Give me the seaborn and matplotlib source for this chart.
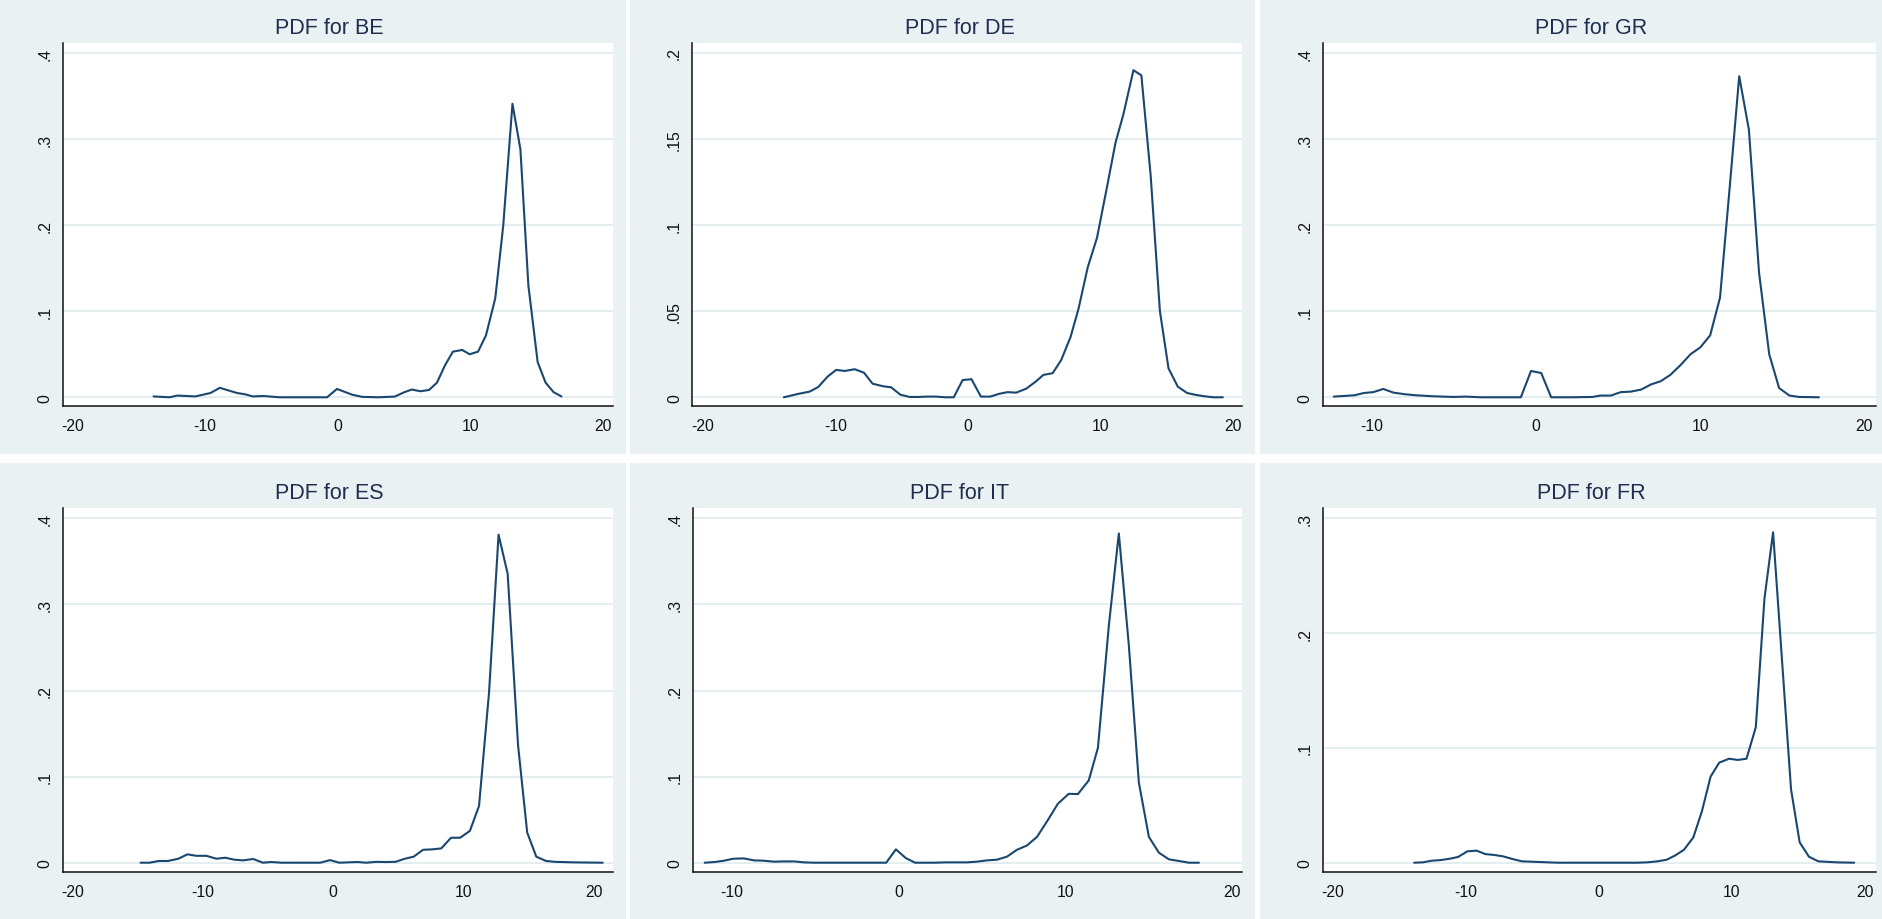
import numpy as np
import pandas as pd
import matplotlib
matplotlib.use("Agg")
import matplotlib.pyplot as plt
from matplotlib.patches import Rectangle
import seaborn as sns

# ---------------- data ----------------
countries = ["BE", "DE", "GR", "ES", "IT", "FR"]

be_x = [-13.9, -12.7, -12.1, -10.75, -9.6, -8.9, -7.6, -7.0, -6.4, -5.6, -4.4, -0.8, -0.05, 1.1, 1.85,
        3.05, 4.3, 5.05, 5.6, 6.25, 6.9, 7.5, 8.1, 8.7, 9.4, 9.97, 10.6, 11.2, 11.9, 12.5, 13.2, 13.8,
        14.4, 15.1, 15.7, 16.3, 16.9]
be_y = [0.001, 0.0, 0.002, 0.001, 0.005, 0.011, 0.005, 0.0035, 0.001, 0.0015, 0.0, 0.0, 0.0097, 0.003,
        0.0005, 0.0, 0.0008, 0.006, 0.009, 0.007, 0.0085, 0.017, 0.037, 0.053, 0.055, 0.050, 0.053,
        0.072, 0.115, 0.199, 0.341, 0.288, 0.130, 0.041, 0.017, 0.006, 0.001]

de_x = [-13.9, -12.8, -11.95, -11.3, -10.6, -9.95, -9.3, -8.55, -7.85, -7.2, -6.4, -5.8, -5.1, -4.4,
        -3.75, -3.1, -2.4, -1.7, -1.07, -0.4, 0.27, 0.98, 1.68, 2.35, 3.0, 3.65, 4.4, 5.1, 5.7, 6.4,
        7.05, 7.75, 8.35, 9.05, 9.75, 10.45, 11.15, 11.75, 12.5, 13.1, 13.8, 14.5, 15.15, 15.85,
        16.55, 17.2, 17.85, 18.55, 19.25]
de_y = [0.0, 0.002, 0.0033, 0.006, 0.012, 0.0159, 0.0153, 0.0163, 0.0143, 0.0079, 0.0064, 0.0058,
        0.0015, 0.0002, 0.0002, 0.0004, 0.0004, 0.0, 0.0, 0.010, 0.0105, 0.0004, 0.0004, 0.002, 0.003,
        0.0027, 0.005, 0.009, 0.013, 0.014, 0.0217, 0.035, 0.0513, 0.0755, 0.0927, 0.120, 0.148,
        0.1646, 0.190, 0.187, 0.129, 0.050, 0.0168, 0.0062, 0.0025, 0.0014, 0.0006, 0.0, 0.0]

gr_x = [-12.34, -11.1, -10.5, -9.93, -9.33, -8.7, -8.0, -7.3, -6.3, -5.08, -4.3, -3.35, -0.94, -0.32,
        0.3, 0.91, 2.2, 3.43, 3.9, 4.55, 5.15, 5.77, 6.4, 7.0, 7.58, 8.17, 8.8, 9.4, 10.0, 10.6, 11.2,
        11.8, 12.37, 12.96, 13.58, 14.2, 14.8, 15.43, 16.04, 17.23]
gr_y = [0.0008, 0.0023, 0.005, 0.006, 0.0097, 0.0054, 0.0035, 0.0023, 0.0012, 0.0004, 0.0008, 0.0,
        0.0, 0.0306, 0.0282, 0.0, 0.0, 0.0004, 0.002, 0.002, 0.006, 0.0066, 0.009, 0.015, 0.0186,
        0.026, 0.0375, 0.050, 0.058, 0.072, 0.1157, 0.246, 0.373, 0.311, 0.1447, 0.050, 0.0108,
        0.002, 0.0004, 0.0]

es_x = [-14.8, -14.1, -13.4, -12.7, -11.9, -11.2, -10.5, -9.75, -8.97, -8.3, -7.6, -6.9, -6.15, -5.4,
        -4.75, -3.97, -1.0, -0.25, 0.47, 1.15, 1.86, 2.55, 3.3, 4.0, 4.78, 5.5, 6.18, 6.9, 7.6, 8.3,
        9.05, 9.75, 10.5, 11.2, 11.97, 12.7, 13.4, 14.2, 14.9, 15.6, 16.35, 17.05, 18.5, 20.7]
es_y = [0.0, 0.0, 0.002, 0.002, 0.0046, 0.0097, 0.008, 0.008, 0.0046, 0.0058, 0.0035, 0.0027, 0.0043,
        0.0, 0.0008, 0.0, 0.0, 0.003, 0.0, 0.0004, 0.0008, 0.0, 0.001, 0.0008, 0.001, 0.0046, 0.007,
        0.015, 0.0155, 0.0166, 0.029, 0.029, 0.037, 0.066, 0.198, 0.381, 0.3355, 0.136, 0.035, 0.007,
        0.002, 0.001, 0.0004, 0.0]

it_x = [-11.6, -11.0, -10.45, -9.9, -9.25, -8.65, -8.05, -7.45, -6.85, -6.25, -5.65, -5.05, -0.73,
        -0.15, 0.44, 1.0, 2.2, 2.8, 4.1, 4.7, 5.3, 5.9, 6.5, 7.1, 7.7, 8.3, 8.95, 9.55, 10.2, 10.75,
        11.4, 11.95, 12.6, 13.2, 13.8, 14.4, 15.0, 15.6, 16.2, 16.8, 17.4, 18.0]
it_y = [0.0, 0.0008, 0.0023, 0.0046, 0.005, 0.0027, 0.0023, 0.0012, 0.0015, 0.0015, 0.0004, 0.0, 0.0,
        0.0155, 0.0054, 0.0, 0.0, 0.0004, 0.0004, 0.0012, 0.0027, 0.0035, 0.007, 0.015, 0.020, 0.030,
        0.0495, 0.0685, 0.080, 0.0797, 0.0956, 0.1336, 0.275, 0.3825, 0.2524, 0.093, 0.030, 0.0116,
        0.0039, 0.002, 0.0, 0.0]

fr_x = [-13.9, -13.25, -12.6, -11.9, -11.2, -10.6, -9.9, -9.2, -8.55, -7.85, -7.2, -6.5, -5.8, -4.45,
        -3.1, 1.5, 2.85, 3.6, 4.4, 5.1, 5.75, 6.4, 7.1, 7.75, 8.4, 9.05, 9.8, 10.45, 11.1, 11.8, 12.45,
        13.1, 13.8, 14.45, 15.1, 15.8, 16.5, 17.9, 19.2]
fr_y = [0.0, 0.0003, 0.0017, 0.0023, 0.0035, 0.005, 0.0099, 0.0105, 0.0075, 0.0067, 0.0055, 0.0032,
        0.0012, 0.0006, 0.0, 0.0, 0.0, 0.0003, 0.0012, 0.0026, 0.0064, 0.0113, 0.022, 0.045, 0.075,
        0.0872, 0.0906, 0.0895, 0.0906, 0.118, 0.230, 0.2878, 0.1717, 0.064, 0.0177, 0.0052, 0.0012,
        0.0003, 0.0]

xticks_full = [-20, -10, 0, 10, 20]
xticks_short = [-10, 0, 10, 20]
yticks_04 = [0, 0.1, 0.2, 0.3, 0.4]
ylabels_04 = ["0", ".1", ".2", ".3", ".4"]
yticks_02 = [0, 0.05, 0.1, 0.15, 0.2]
ylabels_02 = ["0", ".05", ".1", ".15", ".2"]
yticks_03 = [0, 0.1, 0.2, 0.3]
ylabels_03 = ["0", ".1", ".2", ".3"]

series = {
    "BE": (be_x, be_y, xticks_full, yticks_04, ylabels_04),
    "DE": (de_x, de_y, xticks_full, yticks_02, ylabels_02),
    "GR": (gr_x, gr_y, xticks_short, yticks_04, ylabels_04),
    "ES": (es_x, es_y, xticks_full, yticks_04, ylabels_04),
    "IT": (it_x, it_y, xticks_short, yticks_04, ylabels_04),
    "FR": (fr_x, fr_y, xticks_full, yticks_03, ylabels_03),
}

# ---------------- styling / layout ----------------
sns.set_style("white")
plt.rcParams["font.family"] = ["Liberation Sans", "DejaVu Sans"]
plt.rcParams["axes.unicode_minus"] = False

W, H = 1883, 920
fig = plt.figure(figsize=(W / 100, H / 100), dpi=100, facecolor="white")

BG = "#EAF1F3"
GRID = "#E4EDF0"
LINE = "#1A476F"
TITLE = "#1E2D50"

# panel backgrounds (pixel boxes: x0, x1, y0, y1 with y from top)
panel_boxes = [(0, 626, 0, 455), (630, 1255, 0, 455), (1260, 1883, 0, 455),
               (0, 626, 464, 920), (630, 1255, 464, 920), (1260, 1883, 464, 920)]
for (x0, x1, y0, y1) in panel_boxes:
    rect = Rectangle((x0 / W, 1 - y1 / H), (x1 - x0) / W, (y1 - y0) / H,
                     transform=fig.transFigure, facecolor=BG, edgecolor="none", zorder=-10)
    fig.add_artist(rect)

# plot-area pixel boxes (left, right, top, bottom)
plot_boxes = {
    "BE": (62.7, 612.6, 44, 407), "DE": (692.5, 1242.4, 44, 407), "GR": (1323, 1875.7, 44, 407),
    "ES": (62.7, 612.6, 509, 873), "IT": (693, 1242.4, 509, 873), "FR": (1323, 1875.7, 509, 873),
}
xlims = {"BE": (-20.76, 20.76), "DE": (-20.8, 20.73), "GR": (-13.0, 20.69),
         "ES": (-20.78, 21.46), "IT": (-12.3, 20.6), "FR": (-20.76, 20.82)}

for name in countries:
    xs, ys, xt, yt, yl = series[name]
    l, r, t, b = plot_boxes[name]
    ax = fig.add_axes([l / W, 1 - b / H, (r - l) / W, (b - t) / H])
    ax.set_zorder(1)
    ax.set_facecolor("white")
    df = pd.DataFrame({"x": xs, "y": ys})
    sns.lineplot(data=df, x="x", y="y", ax=ax, color=LINE, linewidth=1.5, sort=False,
                 estimator=None, zorder=3)
    R = yt[-1]
    top_row = t < 100
    if top_row:
        ax.set_ylim(-0.0253 * R, 1.029 * R)
    else:
        ax.set_ylim(-0.027 * R, 1.030 * R)
    ax.set_xlim(*xlims[name])
    ax.set_xticks(xt)
    ax.set_xticklabels([str(v) for v in xt])
    ax.set_yticks(yt)
    ax.set_yticklabels(yl, rotation=90, va="center")
    ax.set_xlabel("")
    ax.set_ylabel("")
    for s in ["top", "right"]:
        ax.spines[s].set_visible(False)
    for s in ["left", "bottom"]:
        ax.spines[s].set_color("#111111")
        ax.spines[s].set_linewidth(1.1)
    ax.tick_params(axis="both", direction="out", length=4.5, width=1.0, color="#111111",
                   labelsize=11.3, labelcolor="#111111")
    ax.tick_params(axis="y", pad=3)
    ax.tick_params(axis="x", pad=4)
    ax.grid(False)
    for v in yt:
        ax.axhline(v, color=GRID, linewidth=1.4, zorder=1)
    ph = b - t
    ax.text(0.5 - 8 / (r - l), 1 + 15.5 / ph, f"PDF for {name}", transform=ax.transAxes,
            ha="center", va="center", fontsize=15.5, color=TITLE)

fig.savefig("out.png", dpi=100, facecolor="white")
